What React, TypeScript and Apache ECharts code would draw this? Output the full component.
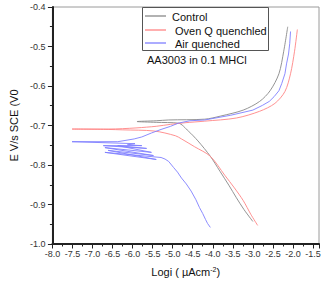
import React, { useEffect, useRef } from "react";
import * as echarts from "echarts";

const controlLogI = [-3.0, -3.22, -3.41, -3.6, -3.82, -4.06, -4.37, -4.61, -4.86, -5.41, -5.89, -5.41, -5.1, -4.2, -3.8, -3.24, -2.83, -2.57, -2.35, -2.23, -2.13];
const controlE = [-0.943, -0.913, -0.883, -0.851, -0.816, -0.778, -0.739, -0.714, -0.694, -0.692, -0.69, -0.688, -0.686, -0.684, -0.676, -0.661, -0.639, -0.612, -0.569, -0.512, -0.45];

const ovenLogI = [-2.88, -3.05, -3.24, -3.46, -3.7, -4.06, -4.45, -4.78, -4.93, -5.46, -6.25, -6.61, -7.51, -6.61, -6.25, -5.89, -5.41, -5.05, -4.69, -4.2, -3.41, -2.83, -2.45, -2.2, -2.06, -1.96, -1.89];
const ovenE = [-0.953, -0.925, -0.89, -0.858, -0.826, -0.778, -0.754, -0.734, -0.726, -0.714, -0.711, -0.71, -0.709, -0.709, -0.708, -0.706, -0.702, -0.697, -0.693, -0.689, -0.681, -0.664, -0.644, -0.614, -0.569, -0.512, -0.457];

const airLogI = [-4.06, -4.13, -4.18, -4.25, -4.33, -4.42, -4.54, -4.66, -4.78, -4.88, -4.98, -5.1, -5.19, -5.29, -6.69, -5.41, -6.61, -5.48, -6.69, -5.53, -6.37, -5.65, -6.73, -5.77, -6.13, -5.94, -7.51, -6.37, -5.96, -5.77, -5.53, -5.29, -5.05, -4.86, -4.57, -4.2, -3.55, -3.0, -2.76, -2.59, -2.47, -2.35, -2.28, -2.2, -2.16, -2.11, -2.08, -2.06];
const airE = [-0.958, -0.948, -0.938, -0.923, -0.908, -0.888, -0.866, -0.848, -0.833, -0.818, -0.806, -0.791, -0.785, -0.781, -0.768, -0.786, -0.763, -0.776, -0.756, -0.768, -0.751, -0.758, -0.751, -0.751, -0.749, -0.746, -0.741, -0.741, -0.734, -0.729, -0.719, -0.71, -0.702, -0.694, -0.688, -0.686, -0.674, -0.661, -0.649, -0.639, -0.627, -0.612, -0.594, -0.569, -0.544, -0.519, -0.492, -0.462];

const seriesNames = ["Control", "Oven Q quenchled", "Air quenched"];
const seriesColors = ["#888888", "#ff8484", "#7f7fff"];
const annotation = "AA3003 in 0.1 MHCl";
const xTitle = "Logi ( µAcm{sup|-2})";
const yTitle = "E V/s SCE (V0";

const zip = (a: number[], b: number[]) => a.map((v, i) => [v, b[i]]);

const FONT = "'Liberation Sans', Arial, sans-serif";

export default function App() {
  const ref = useRef<HTMLDivElement>(null);
  useEffect(() => {
    document.body.style.margin = "0";
    const chart = echarts.init(ref.current!, null, { renderer: "svg" });
    const axisCommon = {
      axisLine: { show: true, onZero: false, lineStyle: { color: "#222", width: 2 } },
      axisTick: { show: true, length: 4.5, lineStyle: { color: "#222", width: 1 } },
      minorTick: { show: true, splitNumber: 2, length: 2.5, lineStyle: { color: "#222", width: 1 } },
      splitLine: { show: false },
      minorSplitLine: { show: false },
    };
    const legendRows = [16, 30, 43];
    const legendTextX = [172, 175, 175];
    const legendGraphics: any[] = [
      {
        type: "rect",
        shape: { x: 142.5, y: 7.5, width: 126, height: 43 },
        style: { fill: "#fff", stroke: "#555", lineWidth: 1 },
        z: 10,
      },
    ];
    seriesNames.forEach((name, i) => {
      legendGraphics.push({
        type: "line",
        shape: { x1: 145, y1: legendRows[i], x2: 166, y2: legendRows[i] },
        style: { stroke: seriesColors[i], lineWidth: 1.3 },
        z: 11,
      });
      legendGraphics.push({
        type: "text",
        x: legendTextX[i],
        y: legendRows[i] + 0.5,
        style: {
          text: name,
          fontSize: 11,
          fill: "#111",
          fontFamily: FONT,
          verticalAlign: "middle",
          align: "left",
        },
        z: 11,
      });
    });
    chart.setOption({
      animation: false,
      textStyle: { fontFamily: FONT },
      grid: {
        left: 42.5,
        right: 7,
        top: 7,
        bottom: 33.5,
        show: true,
        borderColor: "#9a9a9a",
        borderWidth: 1,
        backgroundColor: "transparent",
      },
      graphic: [
        ...legendGraphics,
        {
          type: "text",
          x: 147,
          y: 60,
          style: { text: annotation, fontSize: 11, fill: "#111", fontFamily: FONT, verticalAlign: "middle" },
          z: 11,
        },
      ],
      xAxis: {
        type: "value",
        min: -8,
        max: -1.35,
        interval: 0.5,
        ...axisCommon,
        axisLabel: {
          fontSize: 9,
          color: "#333",
          margin: 5,
          showMaxLabel: false,
          formatter: (v: number) => v.toFixed(1),
        },
        name: xTitle,
        nameLocation: "middle",
        nameGap: 22,
        nameTextStyle: {
          fontSize: 11,
          color: "#111",
          rich: { sup: { fontSize: 7, verticalAlign: "top", color: "#111" } },
        },
      },
      yAxis: {
        type: "value",
        min: -1.0,
        max: -0.4,
        interval: 0.1,
        ...axisCommon,
        axisLabel: {
          fontSize: 9,
          color: "#333",
          margin: 7,
          formatter: (v: number) => v.toFixed(1),
        },
        name: yTitle,
        nameLocation: "middle",
        nameGap: 30,
        nameTextStyle: { fontSize: 11, color: "#111" },
      },
      series: [
        { name: seriesNames[0], data: zip(controlLogI, controlE), smooth: 0.3 },
        { name: seriesNames[1], data: zip(ovenLogI, ovenE), smooth: 0.3 },
        { name: seriesNames[2], data: zip(airLogI, airE), smooth: false },
      ].map((s, i) => ({
        ...s,
        type: "line",
        symbol: "none",
        showSymbol: false,
        color: seriesColors[i],
        lineStyle: { color: seriesColors[i], width: 0.9 },
      })),
    });
    return () => chart.dispose();
  }, []);
  return <div ref={ref} style={{ width: 326, height: 282 }} />;
}
